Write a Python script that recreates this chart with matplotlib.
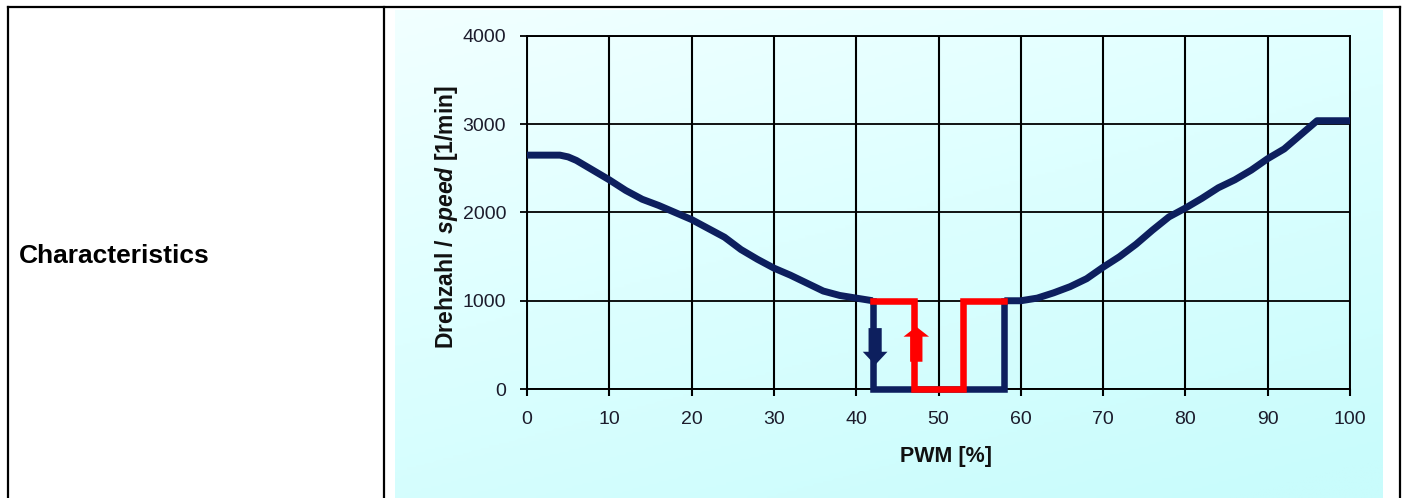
import numpy as np
import matplotlib
matplotlib.use('Agg')
import matplotlib.pyplot as plt
from matplotlib.lines import Line2D
from matplotlib.patches import FancyArrow
from matplotlib.colors import LinearSegmentedColormap

plt.rcParams['font.family'] = ['Liberation Sans', 'DejaVu Sans']
plt.rcParams['mathtext.fontset'] = 'custom'
plt.rcParams['mathtext.rm'] = 'Liberation Sans:bold'
plt.rcParams['mathtext.it'] = 'Liberation Sans:italic:bold'
plt.rcParams['mathtext.bf'] = 'Liberation Sans:bold'

# ---------------- data ----------------
row_label = "Characteristics"
x_label = "PWM [%]"
y_label = r"Drehzahl / $\mathit{speed}$ [1/min]"

x_ticks = [0, 10, 20, 30, 40, 50, 60, 70, 80, 90, 100]
y_ticks = [0, 1000, 2000, 3000, 4000]

falling_pwm = [0, 2, 4, 5, 6, 8, 10, 12, 14, 16, 18, 20, 22, 24, 26, 28,
               30, 32, 34, 36, 38, 40, 42]
falling_speed = [2650, 2650, 2650, 2630, 2590, 2480, 2370, 2250, 2150, 2080,
                 2000, 1920, 1820, 1720, 1580, 1470, 1370, 1290, 1200, 1110,
                 1060, 1030, 1000]

rising_pwm = [58, 60, 62, 64, 66, 68, 70, 72, 74, 76, 78, 80, 82, 84, 86,
              88, 90, 92, 94, 96, 100]
rising_speed = [1000, 1000, 1030, 1090, 1160, 1250, 1380, 1500, 1640, 1800,
                1950, 2050, 2160, 2280, 2370, 2480, 2610, 2720, 2880, 3040,
                3040]

stop_pwm = [42, 42, 58, 58]
stop_speed = [1000, 0, 0, 1000]

start_pwm = [42, 47, 47, 53, 53, 58]
start_speed = [1000, 1000, 0, 0, 1000, 1000]

# arrows: (pwm, speed_from, speed_to)
down_arrow = (42.3, 690, 272)
up_arrow = (47.3, 309, 706)

navy = '#0d1f5e'
red = '#ff0000'

W, H = 1407, 498
fig = plt.figure(figsize=(W / 100, H / 100), dpi=100)
fig.patch.set_facecolor('white')

# background gradient panel
bx0, bx1, by_top = 395, 1383, 10
bg = fig.add_axes([bx0 / W, 0, (bx1 - bx0) / W, 1 - by_top / H], zorder=0)
yy, xx = np.mgrid[0:1:200j, 0:1:300j]
t = np.clip(0.65 * yy + 0.35 * xx + 0.05, 0, 1)
cmap = LinearSegmentedColormap.from_list('bgc', ['#f4ffff', '#ddffff', '#c9fcfc'])
bg.imshow(t, cmap=cmap, aspect='auto', extent=[0, 1, 1, 0], vmin=0, vmax=1)
bg.set_axis_off()

# main axes
x0, x1, ytop, ybot = 527, 1350, 36, 389
ax = fig.add_axes([x0 / W, 1 - ybot / H, (x1 - x0) / W, (ybot - ytop) / H], zorder=2)
ax.set_facecolor('none')
ax.set_xlim(0, 100)
ax.set_ylim(0, 4000)
ax.set_xticks(x_ticks)
ax.set_yticks(y_ticks)
ax.set_xticklabels([str(v) for v in x_ticks])
ax.set_yticklabels([str(v) for v in y_ticks])
for s in ax.spines.values():
    s.set_color('black')
    s.set_linewidth(1.4)
ax.grid(True, axis='x', color='black', linewidth=1.5)
ax.grid(True, axis='y', color='black', linewidth=1.3)
ax.set_axisbelow(True)
ax.tick_params(axis='x', direction='out', length=5, width=1.5, pad=10.5,
               labelsize=14, labelcolor='#1c1c2c', color='black')
ax.tick_params(axis='y', direction='out', length=5, width=1.3, pad=10,
               labelsize=14, labelcolor='#1c1c2c', color='black')

lw = 5
ax.plot(falling_pwm, falling_speed, color=navy, lw=lw, solid_capstyle='butt',
        solid_joinstyle='round', clip_on=False, zorder=3)
ax.plot(rising_pwm, rising_speed, color=navy, lw=lw, solid_capstyle='butt',
        solid_joinstyle='round', clip_on=False, zorder=3)
ax.plot(stop_pwm, stop_speed, color=navy, lw=4.7, solid_capstyle='projecting',
        solid_joinstyle='miter', clip_on=False, zorder=3)
ax.plot(start_pwm, start_speed, color=red, lw=4.7, solid_capstyle='projecting',
        solid_joinstyle='miter', clip_on=False, zorder=4)

ax.add_patch(FancyArrow(down_arrow[0], down_arrow[1], 0, down_arrow[2] - down_arrow[1],
                        width=1.6, head_width=3.0, head_length=150,
                        length_includes_head=True, color=navy, lw=0, zorder=5))
ax.add_patch(FancyArrow(up_arrow[0], up_arrow[1], 0, up_arrow[2] - up_arrow[1],
                        width=1.5, head_width=3.1, head_length=113,
                        length_includes_head=True, color=red, lw=0, zorder=5))

# axis titles
fig.text(945.5 / W, 1 - 461.5 / H, x_label, ha='center', va='baseline',
         fontsize=15.5, fontweight='bold', color='#111111')
fig.text(447 / W, 1 - 217 / H, y_label, ha='center', va='center', rotation=90,
         fontsize=16.5, fontweight='bold', color='#111111')

# table cell text and borders
fig.text(19 / W, 1 - 263.3 / H, row_label, ha='left', va='baseline',
         fontsize=19, fontweight='bold', color='black')

def hline(y, xa, xb):
    fig.add_artist(Line2D([xa / W, xb / W], [1 - y / H, 1 - y / H], color='black',
                          lw=1.6, transform=fig.transFigure, solid_capstyle='projecting'))

def vline(x, ya, yb):
    fig.add_artist(Line2D([x / W, x / W], [1 - ya / H, 1 - yb / H], color='black',
                          lw=1.6, transform=fig.transFigure, solid_capstyle='projecting'))

hline(7.5, 8, 1400)
vline(8, 7.5, 500)
vline(384, 7.5, 500)
vline(1400, 7.5, 500)

fig.savefig('out.png', dpi=100, facecolor='white')
